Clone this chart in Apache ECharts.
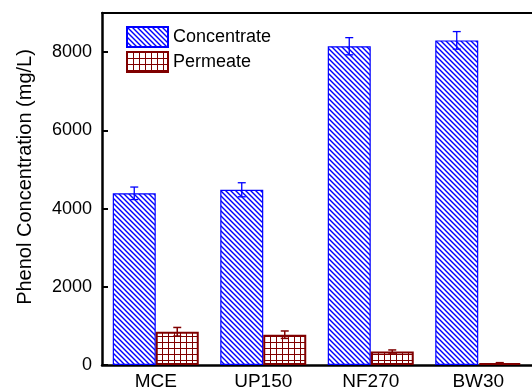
<!DOCTYPE html>
<html lang="en">
<head>
    <meta charset="UTF-8">
    <title>Phenol concentration</title>
    <style>
        html, body { margin: 0; padding: 0; background: #fff; }
        #main { width: 532px; height: 391px; }
    </style>
</head>
<body>
<div id="main"></div>
<script src="https://cdn.jsdelivr.net/npm/echarts@6/dist/echarts.min.js"></script>
<script>
    // data
    var membranes = ['MCE', 'UP150', 'NF270', 'BW30'];
    var concentrate = [4390, 4480, 8150, 8300];
    var concentrateErr = [160, 180, 220, 225];
    var permeate = [850, 775, 345, 50];
    var permeateErr = [110, 95, 40, 10];
    var yTicks = [0, 2000, 4000, 6000, 8000];

    var BLUE = '#0000ff', RED = '#800000';

    // hatch pattern (\\\\) for concentrate
    function hatch(color) {
        var s = 5;
        var c = document.createElement('canvas');
        c.width = s; c.height = s;
        var g = c.getContext('2d');
        g.fillStyle = '#fff';
        g.fillRect(0, 0, s, s);
        g.strokeStyle = color;
        g.lineWidth = 1.4;
        g.beginPath();
        g.moveTo(-1, -1); g.lineTo(s + 1, s + 1);
        g.moveTo(-1, s - 1); g.lineTo(1, s + 1);
        g.moveTo(s - 1, -1); g.lineTo(s + 1, 1);
        g.stroke();
        return c;
    }
    // square grid pattern for permeate
    function grid(color) {
        var s = 6;
        var c = document.createElement('canvas');
        c.width = s; c.height = s;
        var g = c.getContext('2d');
        g.fillStyle = '#fff';
        g.fillRect(0, 0, s, s);
        g.fillStyle = color;
        g.fillRect(0, 0, s, 1);
        g.fillRect(0, 0, 1, s);
        return c;
    }

    var font = 'Liberation Sans, Arial, sans-serif';

    function errData(vals, errs) {
        return vals.map(function (v, i) { return [i, v - errs[i], v + errs[i]]; });
    }

    function errSeries(name, vals, errs, color, side, lw) {
        return {
            name: name + ' err',
            type: 'custom',
            z: 5,
            silent: true,
            data: errData(vals, errs),
            encode: { x: 0, y: [1, 2] },
            renderItem: function (params, api) {
                var i = api.value(0);
                var lo = api.coord([i, api.value(1)]);
                var hi = api.coord([i, api.value(2)]);
                var band = api.size([1, 0])[0];
                var x = lo[0] + side * band * 0.2;
                var cap = 4;
                var st = { stroke: color, lineWidth: lw };
                return {
                    type: 'group',
                    children: [
                        { type: 'line', shape: { x1: x, y1: lo[1], x2: x, y2: hi[1] }, style: st },
                        { type: 'line', shape: { x1: x - cap, y1: hi[1], x2: x + cap, y2: hi[1] }, style: st },
                        { type: 'line', shape: { x1: x - cap, y1: lo[1], x2: x + cap, y2: lo[1] }, style: st }
                    ]
                };
            }
        };
    }

    var myChart = echarts.init(document.getElementById('main'));
    var option = {
        animation: false,
        backgroundColor: '#fff',
        grid: { left: 102, top: 13, width: 440, height: 353 },
        legend: {
            orient: 'vertical',
            left: 126,
            top: 26,
            icon: 'rect',
            itemWidth: 41,
            itemHeight: 20,
            itemGap: 3,
            padding: 0,
            data: ['Concentrate', 'Permeate'],
            textStyle: { fontFamily: font, fontSize: 18, color: '#000' }
        },
        xAxis: [{
            type: 'category',
            data: membranes,
            position: 'bottom',
            axisLine: { lineStyle: { color: '#000', width: 2.5 } },
            axisTick: { inside: true, alignWithLabel: true, length: 6, lineStyle: { color: '#000', width: 2 } },
            axisLabel: { fontFamily: font, fontSize: 19, color: '#000', margin: 7 }
        }, {
            type: 'category',
            data: membranes,
            position: 'top',
            axisLine: { lineStyle: { color: '#000', width: 2 } },
            axisTick: { inside: true, alignWithLabel: true, length: 6, lineStyle: { color: '#000', width: 2 } },
            axisLabel: { show: false }
        }],
        yAxis: {
            type: 'value',
            min: 0,
            max: 9000,
            interval: 2000,
            name: 'Phenol Concentration (mg/L)',
            nameLocation: 'middle',
            nameGap: 67,
            nameTextStyle: { fontFamily: font, fontSize: 20, color: '#000', padding: [0, 0, 0, 24] },
            axisLine: { show: true, lineStyle: { color: '#000', width: 2.5 } },
            axisTick: { show: true, inside: true, length: 6, lineStyle: { color: '#000', width: 2 } },
            axisLabel: {
                fontFamily: font, fontSize: 18, color: '#000', margin: 10, showMaxLabel: false,
                formatter: function (v) { return yTicks.indexOf(v) >= 0 ? String(v) : ''; }
            },
            splitLine: { show: false }
        },
        series: [{
            name: 'Concentrate',
            type: 'bar',
            data: concentrate,
            barGap: '0%',
            barCategoryGap: '20%',
            itemStyle: { color: { image: hatch(BLUE), repeat: 'repeat' }, borderColor: BLUE, borderWidth: 1.2 }
        }, {
            name: 'Permeate',
            type: 'bar',
            data: permeate,
            barGap: '0%',
            barCategoryGap: '20%',
            itemStyle: { color: { image: grid(RED), repeat: 'repeat' }, borderColor: RED, borderWidth: 2 }
        },
            errSeries('Concentrate', concentrate, concentrateErr, BLUE, -1, 1.3),
            errSeries('Permeate', permeate, permeateErr, RED, 1, 1.5)
        ]
    };
    myChart.setOption(option);
</script>
</body>
</html>
